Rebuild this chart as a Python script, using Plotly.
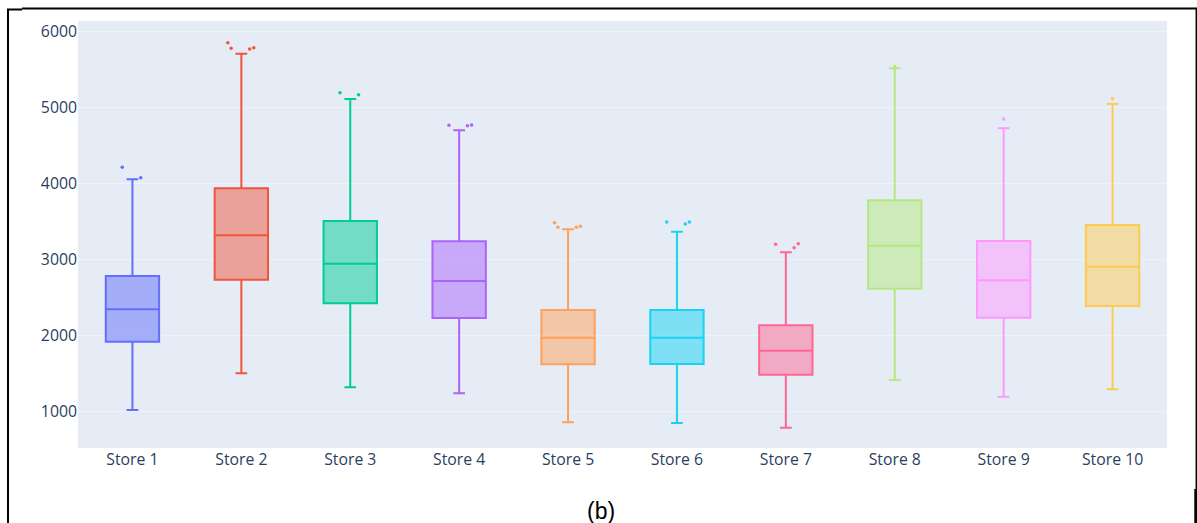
import plotly.graph_objects as go

# Per-store sales distribution summaries
stores = [f"Store {i}" for i in range(1, 11)]
q1 = [1918, 2734, 2423, 2230, 1621, 1625, 1484, 2616, 2234, 2388]
median = [2345, 3318, 2945, 2717, 1971, 1971, 1800, 3182, 2726, 2905]
q3 = [2783, 3937, 3507, 3239, 2336, 2336, 2134, 3779, 3243, 3454]
lower_fence = [1020, 1503, 1318, 1239, 858, 849, 787, 1414, 1195, 1292]
upper_fence = [4055, 5708, 5112, 4700, 3397, 3366, 3095, 5516, 4726, 5046]
outliers = [
    [4213, 4076],
    [5853, 5779, 5770, 5787],
    [5195, 5168],
    [4766, 4761, 4770],
    [3484, 3424, 3424, 3437],
    [3493, 3467, 3493],
    [3200, 3155, 3208],
    [5540],
    [4849],
    [5116],
]
colors = ["#636efa", "#EF553B", "#00cc96", "#ab63fa", "#FFA15A",
          "#19d3f3", "#FF6692", "#B6E880", "#FF97FF", "#FECB52"]

fig = go.Figure()
for i, name in enumerate(stores):
    fig.add_trace(go.Box(
        name=name,
        x=[name],
        y=[outliers[i]],
        q1=[q1[i]],
        median=[median[i]],
        q3=[q3[i]],
        lowerfence=[lower_fence[i]],
        upperfence=[upper_fence[i]],
        boxpoints="outliers",
        jitter=0.6,
        pointpos=0,
        width=0.49,
        whiskerwidth=0.22,
        marker=dict(color=colors[i], size=3.5),
        line=dict(color=colors[i], width=2),
        showlegend=False,
    ))

W, H = 1197, 523
ml, mr, mt, mb = 78, 30, 21, 75
pw, ph = W - ml - mr, H - mt - mb


def px(x):
    return (x - ml) / pw


def py(y):
    return (H - mb - y) / ph


frame = dict(color="black", width=2)
shapes = [
    dict(type="line", xref="paper", yref="paper", x0=px(7), x1=px(22), y0=py(9.5), y1=py(9.5), line=frame),
    dict(type="line", xref="paper", yref="paper", x0=px(22), x1=px(1197), y0=py(8.5), y1=py(8.5), line=frame),
    dict(type="line", xref="paper", yref="paper", x0=px(8), x1=px(8), y0=py(9), y1=py(523), line=frame),
    dict(type="line", xref="paper", yref="paper", x0=px(1196.3), x1=px(1196.3), y0=py(8), y1=py(489),
         line=dict(color="black", width=1.5)),
    dict(type="line", xref="paper", yref="paper", x0=px(1195.7), x1=px(1195.7), y0=py(489), y1=py(523),
         line=dict(color="black", width=2.8)),
]

fig.update_layout(
    template="plotly",
    width=W,
    height=H,
    margin=dict(l=ml, r=mr, t=mt, b=mb),
    font=dict(family="Open Sans, sans-serif", size=15.8, color="#2a3f5f"),
    plot_bgcolor="#E5ECF6",
    paper_bgcolor="white",
    showlegend=False,
    boxmode="overlay",
    shapes=shapes,
    annotations=[dict(
        text="(b)", xref="paper", yref="paper", x=px(601), y=py(511),
        showarrow=False, xanchor="center", yanchor="middle",
        font=dict(family="Liberation Sans, Arial, sans-serif", size=23, color="black"),
    )],
)
fig.update_xaxes(categoryorder="array", categoryarray=stores, range=[-0.5, 9.5], showgrid=False)
fig.update_yaxes(range=[520, 6138], dtick=1000, gridcolor="#EEF2F9", zeroline=False)

fig.write_html("out.html")
